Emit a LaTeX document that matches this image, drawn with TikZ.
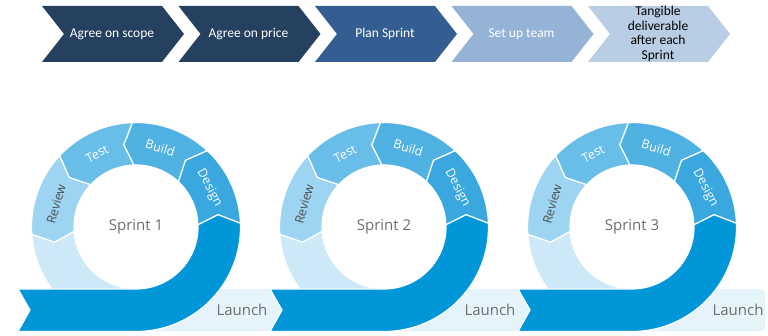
\documentclass[tikz,border=0pt]{standalone}
\usepackage{fontspec}
\setmainfont{Carlito}
\newfontfamily\ringfont{Open Sans}
\definecolor{chevdark}{HTML}{26405F}
\definecolor{chevsteel}{HTML}{345E91}
\definecolor{chevsky}{HTML}{95B3D7}
\definecolor{chevmist}{HTML}{B9CDE5}
\definecolor{phreview}{HTML}{9DD4F1}
\definecolor{phtest}{HTML}{68BEE8}
\definecolor{phbuild}{HTML}{4FB2E3}
\definecolor{phdesign}{HTML}{3AA8DF}
\definecolor{ringpale}{HTML}{CDE9F7}
\definecolor{ribbonblue}{HTML}{0096D7}
\definecolor{launchpale}{HTML}{E5F3FB}
\definecolor{labelgray}{HTML}{6D6E70}
\definecolor{revtext}{HTML}{505050}
\tikzset{
    steptext/.style={align=center, font=\fontsize{13.5}{14.5}\selectfont},
    seg/.style={draw=white, line width=1.2pt, line join=round},
    phasetext/.style={font=\ringfont\fontsize{12.5}{14}\selectfont},
    sprinttext/.style={text=labelgray, font=\ringfont\fontsize{15}{18}\selectfont},
    launchtext/.style={text=labelgray, font=\ringfont\fontsize{15}{18}\selectfont}
}

\begin{document}
\begin{tikzpicture}[x=1pt, y=1pt]
    \useasboundingbox (0,0) rectangle (768,336);
    % process steps along the top
    \foreach \i/\col/\tcol/\txt in {0/chevdark/white/Agree on scope, 1/chevdark/white/Agree on price, 2/chevsteel/white/Plan Sprint, 3/chevsky/white/Set up team, 4/chevmist/black/{Tangible\\deliverable\\after each\\Sprint}} {
        \pgfmathsetmacro\x{42+136.5*\i}
        \fill[\col] (\x,330) -- ++(120,0) -- ++(22,-28) -- ++(-22,-28) -- ++(-120,0) -- ++(22,28) -- cycle;
        \node[steptext, text=\tcol] (step\i) at (\x+70,302) {\txt};
    }
    % one ring per sprint
    \foreach \s/\cx/\tail in {1/136/-118, 2/384/-114, 3/632/-114} {
        \begin{scope}[shift={(\cx,109)}]
            \ifnum\s<3
                \fill[launchpale] (0,-62) -- (134,-62) -- (146,-83) -- (134,-104.5) -- (0,-104.5) -- cycle;
            \else
                \fill[launchpale, rounded corners=4pt] (0,-62) -- (133,-62) -- (133,-104.5) -- (0,-104.5) -- cycle;
            \fi
            \node[launchtext] (launch\s) at (106,-83) {Launch};
            \filldraw[seg, fill=ringpale] (184:104.5) arc[start angle=184, end angle=272, radius=104.5] -- (272:62) arc[start angle=272, end angle=184, radius=62] -- (190.5:83) -- cycle;
            \foreach \a/\b/\col/\tcol/\txt in {2/47/phdesign/white/Design, 47/92/phbuild/white/Build, 92/137/phtest/white/Test, 137/184/phreview/revtext/Review} {
                \filldraw[seg, fill=\col] (\a:104.5) arc[start angle=\a, end angle=\b, radius=104.5] -- ({\b+6.5}:83) -- (\b:62) arc[start angle=\b, end angle=\a, radius=62] -- ({\a+6.5}:83) -- cycle;
                \node[phasetext, text=\tcol, rotate={(\a+\b)/2-86.5}] (\txt\s) at ({(\a+\b)/2+3.5}:83) {\txt};
            }
            \filldraw[seg, fill=ribbonblue] (\tail,-104.5) -- (0,-104.5) arc[start angle=270, end angle=362, radius=104.5] -- (368.5:83) -- (362:62) arc[start angle=362, end angle=270, radius=62] -- (\tail,-62) -- ({\tail+12},-83) -- cycle;
            \node[sprinttext] (sprint\s) at (0,0) {Sprint \s};
        \end{scope}
    }
\end{tikzpicture}
\end{document}
